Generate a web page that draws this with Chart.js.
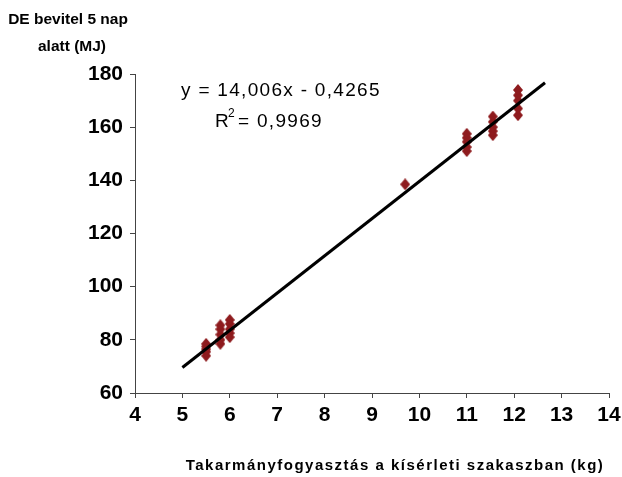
<!DOCTYPE html>
<html>
<head>
<meta charset="utf-8">
<script src="https://cdn.jsdelivr.net/npm/chart.js@4"></script>
<style>
  html, body { margin: 0; padding: 0; background: #fff; }
  #wrap { width: 622px; height: 477px; position: relative; }
</style>
</head>
<body>
<div id="wrap"><canvas id="chart" width="622" height="477"></canvas></div>
<script>
// Data
const feedX = [5.5, 5.5, 5.5, 5.5, 5.5,
               5.8, 5.8, 5.8, 5.8, 5.8,
               6.0, 6.0, 6.0, 6.0, 6.0,
               9.7,
               11.0, 11.0, 11.0, 11.0, 11.0,
               11.55, 11.55, 11.55, 11.55, 11.55,
               12.08, 12.08, 12.08, 12.08, 12.08];
const energyY = [74, 75.5, 76.5, 77.5, 78.5,
                 78.5, 80, 82, 84, 85.5,
                 81, 82.5, 84, 86, 87.5,
                 138.5,
                 151, 152.5, 154.5, 156, 157.5,
                 157, 158.5, 160, 162, 164,
                 164.5, 167, 170, 172, 174];
const trendX = [5.0, 12.65];
const trendY = [69.6, 176.7];
const xTicks = [4, 5, 6, 7, 8, 9, 10, 11, 12, 13, 14];
const yTicks = [60, 80, 100, 120, 140, 160, 180];

const FONT = "'Liberation Sans', Arial, sans-serif";
const MARK = "#8E1B1E";

/* small vertical diamond marker like the Excel one */
function diamond() {
  const c = document.createElement("canvas");
  c.width = 10; c.height = 12;
  const g = c.getContext("2d");
  g.fillStyle = MARK;
  g.beginPath();
  g.moveTo(5, 0); g.lineTo(10, 6); g.lineTo(5, 12); g.lineTo(0, 6);
  g.closePath(); g.fill();
  return c;
}

/* titles + regression text */
const labelsPlugin = {
  id: "labels",
  afterDraw(chart) {
    const { ctx } = chart;
    ctx.save();
    ctx.fillStyle = "#000";
    ctx.textBaseline = "middle";
    ctx.textAlign = "center";
    ctx.font = "bold 15.5px " + FONT;
    ctx.fillText("DE bevitel 5 nap", 68, 20);
    ctx.fillText("alatt (MJ)", 72, 47);
    ctx.font = "bold 15px " + FONT;
    ctx.letterSpacing = "1.5px";
    ctx.fillText("Takarmányfogyasztás a kísérleti szakaszban (kg)", 395, 466);
    ctx.textAlign = "left";
    ctx.font = "19px " + FONT;
    ctx.letterSpacing = "1.3px";
    ctx.fillText("y = 14,006x - 0,4265", 181, 91);
    ctx.fillText("R", 215, 122);
    ctx.fillText("= 0,9969", 238, 122);
    ctx.letterSpacing = "0px";
    ctx.font = "12px " + FONT;
    ctx.fillText("2", 228, 114);
    ctx.restore();
  }
};

new Chart(document.getElementById("chart"), {
  type: "scatter",
  data: {
    datasets: [
      {
        label: "DE",
        data: feedX.map((x, i) => ({ x, y: energyY[i] })),
        pointStyle: diamond(),
        pointRadius: 5,
        order: 2
      },
      {
        label: "trend",
        type: "line",
        data: trendX.map((x, i) => ({ x, y: trendY[i] })),
        borderColor: "#000",
        borderWidth: 3,
        pointRadius: 0,
        fill: false,
        order: 1
      }
    ]
  },
  options: {
    responsive: false,
    animation: false,
    layout: { padding: { left: 0, top: 74, right: 13, bottom: 0 } },
    plugins: { legend: { display: false }, tooltip: { enabled: false } },
    scales: {
      x: {
        type: "linear",
        min: 4, max: 14,
        afterBuildTicks: (s) => { s.ticks = xTicks.map(v => ({ value: v })); },
        afterFit: (s) => { s.height = 84; s.paddingRight = 0; s.paddingLeft = 0; },
        border: { color: "#444", width: 1 },
        grid: { drawOnChartArea: false, color: "#444", tickLength: 5 },
        ticks: { color: "#000", padding: 5, font: { family: FONT, size: 21, weight: "bold" } }
      },
      y: {
        type: "linear",
        min: 60, max: 180,
        afterBuildTicks: (s) => { s.ticks = yTicks.map(v => ({ value: v })); },
        afterFit: (s) => { s.width = 135; },
        border: { color: "#444", width: 1 },
        grid: { drawOnChartArea: false, color: "#444", tickLength: 5 },
        ticks: { color: "#000", padding: 7, font: { family: FONT, size: 21, weight: "bold" } }
      }
    }
  },
  plugins: [labelsPlugin]
});
</script>
</body>
</html>
